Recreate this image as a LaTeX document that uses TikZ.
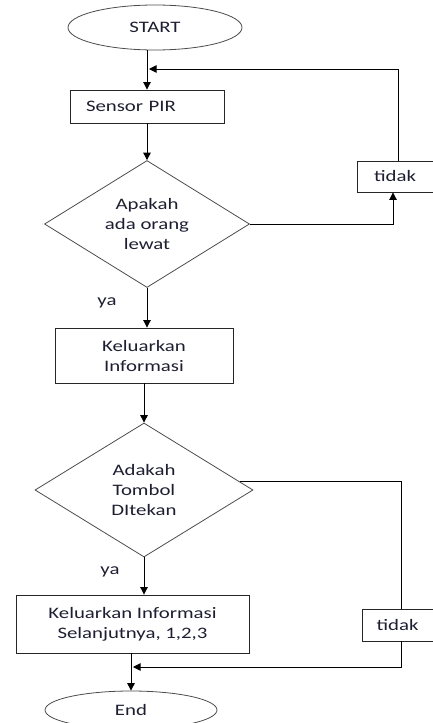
\documentclass[tikz,border=0pt]{standalone}
\usepackage{fontspec}
\setmainfont{Carlito}[FakeStretch=1.3]
\usepackage{tikz}
\usetikzlibrary{shapes.geometric,arrows.meta}
\definecolor{txtcol}{HTML}{1E1E32}

\begin{document}
\begin{tikzpicture}[x=1pt,y=-1pt,
  every node/.style={font=\fontsize{16}{20}\selectfont,text=txtcol},
  box/.style={draw=black!85,line width=0.9pt,rectangle,inner sep=0pt,align=center},
  term/.style={draw=black!70,line width=0.8pt,ellipse,inner sep=0pt},
  decide/.style={draw=black!70,line width=0.8pt,diamond,aspect=1.6,inner sep=0pt,align=center},
  line/.style={draw=black,line width=0.9pt},
  arr/.style={line,-{Triangle[length=7.5pt,width=7.5pt]}}]
\useasboundingbox (0,0) rectangle (432,723);
\node[term,minimum width=174pt,minimum height=45pt] (start) at (155,27.5) {START};
\node[box,minimum width=154pt,minimum height=33pt,text width=122pt,align=left] (pir) at (147,106.5) {Sensor PIR};
\node[decide,minimum width=205pt,minimum height=127pt] (ask1) at (147,224) {Apakah\\ada orang\\lewat};
\node[box,minimum width=76pt,minimum height=31pt] (no1) at (395,176.5) {tidak};
\node (ya1) at (107,303) {ya};
\node[box,minimum width=178pt,minimum height=55pt] (info) at (144,355.5) {Keluarkan\\Informasi};
\node[decide,minimum width=218pt,minimum height=134pt] (ask2) at (144,490) {Adakah\\Tombol\\DItekan};
\node (ya2) at (110,572) {ya};
\node[box,minimum width=233pt,minimum height=58pt] (next) at (132.5,624) {Keluarkan Informasi\\Selanjutnya, 1,2,3};
\node[box,minimum width=71pt,minimum height=32pt] (no2) at (397.5,625) {tidak};
\node[term,minimum width=172pt,minimum height=38pt] (end) at (131,710) {End};
\coordinate (back) at (149,69);
\coordinate (join) at (133,667);
\draw[arr] (start.south -| pir.north) -- (pir.north);
\draw[arr] ([xshift=3pt]no1.north) |- (back);
\draw[arr] (pir.south) -- (ask1.north);
\draw[arr] (ask1.east) -| ([xshift=-2pt]no1.south);
\draw[arr] (ask1.south) -- (ask1.south |- info.north);
\draw[arr] (info.south) -- (ask2.north);
\draw[arr] (ask2.south) -- (ask2.south |- next.north);
\draw[line] (ask2.5) -| ([xshift=3.5pt]no2.north);
\draw[arr] ([xshift=3.5pt]no2.south) |- (join);
\draw[arr] (next.south -| end.north) -- (end.north);
\end{tikzpicture}
\end{document}
